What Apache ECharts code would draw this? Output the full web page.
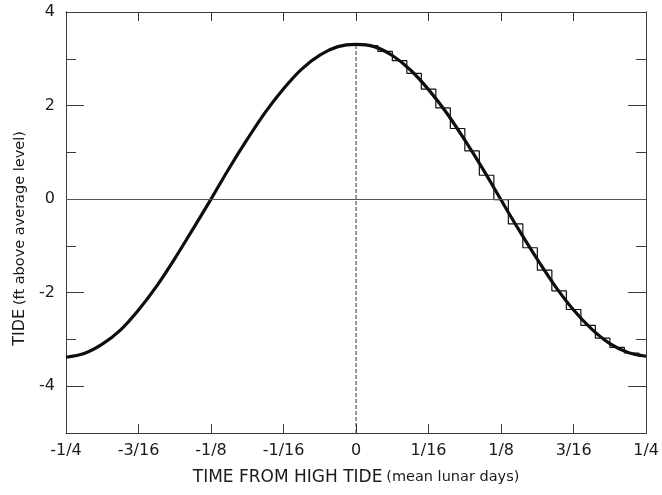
<!DOCTYPE html>
<html>
<head>
<meta charset="utf-8">
<script src="https://cdn.jsdelivr.net/npm/echarts@6/dist/echarts.min.js"></script>
<style>
html,body{margin:0;padding:0;background:#fff;}
#chart{width:662px;height:495px;}
</style>
</head>
<body>
<div id="chart"></div>
<script>
// x tick labels (mean lunar days)
var tickLabels = ["-1/4","-3/16","-1/8","-1/16","0","1/16","1/8","3/16","1/4"];
var yLabelValues = [-4,-2,0,2,4];
var yMinorValues = [-3,-1,1,3];

// smooth tide curve, sampled every 1/64 lunar day
var curveTimes = [-0.25,-0.234375,-0.21875,-0.203125,-0.1875,-0.171875,-0.15625,-0.140625,-0.125,
  -0.109375,-0.09375,-0.078125,-0.0625,-0.046875,-0.03125,-0.015625,0,
  0.015625,0.03125,0.046875,0.0625,0.078125,0.09375,0.109375,0.125,
  0.140625,0.15625,0.171875,0.1875,0.203125,0.21875,0.234375,0.25];
var curveValues = [-3.38,-3.30,-3.10,-2.80,-2.37,-1.86,-1.27,-0.64,0.00,
  0.66,1.28,1.86,2.36,2.78,3.08,3.26,3.31,
  3.26,3.07,2.76,2.34,1.84,1.26,0.64,-0.02,
  -0.67,-1.29,-1.87,-2.37,-2.78,-3.09,-3.28,-3.36];

// staircase approximation (right half)
var stepTimes = [0,0.0125,0.025,0.0375,0.05,0.0625,0.075,0.0875,0.1,0.1125,0.125,
  0.1375,0.15,0.1625,0.175,0.1875,0.2,0.2125,0.225,0.2375,0.25];
var stepValues = [3.31,3.28,3.16,2.96,2.69,2.35,1.95,1.51,1.03,0.51,-0.01,
  -0.53,-1.04,-1.52,-1.96,-2.36,-2.70,-2.97,-3.17,-3.29,-3.36];

var X_MIN = -0.25, X_MAX = 0.25, X_STEP = 0.0625;
var Y_MIN = -5, Y_MAX = 4;

var curveData = curveTimes.map(function(t,i){return [t, curveValues[i]];});
var stepData = stepTimes.map(function(t,i){return [t, stepValues[i]];});
var peakIdx = curveTimes.indexOf(0);
var dashData = [[curveTimes[peakIdx], Y_MIN],[curveTimes[peakIdx], curveValues[peakIdx]]];

var FONT = "DejaVu Sans";
var TXT = "#1a1a1a";
var AXC = "#3a3a3a";

function yAx(pos, vals, len, labels){
  return {
    type:'value', position:pos, min:Y_MIN, max:Y_MAX, interval:1,
    axisLine:{show:true, onZero:false, lineStyle:{color:AXC, width:1}},
    axisTick:{show:true, inside:true, length:len, customValues:vals, lineStyle:{color:AXC, width:1}},
    axisLabel: labels ? {show:true, customValues:yLabelValues, margin:11, color:TXT, fontFamily:FONT, fontSize:16} : {show:false},
    splitLine:{show:false}
  };
}

var yAxes = [yAx('left', yLabelValues, 18, true), yAx('left', yMinorValues, 10, false),
             yAx('right', yLabelValues, 18, false), yAx('right', yMinorValues, 10, false)];
yAxes[0].name = '{a|TIDE} {b|(ft above average level)}';
yAxes[0].nameLocation = 'middle';
yAxes[0].nameGap = 37;
yAxes[0].nameTextStyle = {
  color:TXT, fontFamily:FONT, padding:[0,32,0,0],
  rich:{a:{fontSize:16, fontFamily:FONT, color:TXT}, b:{fontSize:14.5, fontFamily:FONT, color:TXT}}
};

var chart = echarts.init(document.getElementById('chart'), null, {renderer:'canvas'});
chart.setOption({
  animation:false,
  backgroundColor:'#fff',
  grid:{left:66, right:15, top:12, bottom:62, containLabel:false},
  xAxis:[{
    type:'value', position:'bottom', min:X_MIN, max:X_MAX, interval:X_STEP,
    axisLine:{show:true, onZero:false, lineStyle:{color:AXC, width:1}},
    axisTick:{show:true, inside:true, length:9, lineStyle:{color:AXC, width:1}},
    axisLabel:{show:true, margin:10, color:TXT, fontFamily:FONT, fontSize:16,
      formatter:function(v){ return tickLabels[Math.round((v - X_MIN)/X_STEP)] || ''; }},
    splitLine:{show:false},
    name:'{a|TIME FROM HIGH TIDE} {b|(mean lunar days)}',
    nameLocation:'middle', nameGap:36,
    nameTextStyle:{color:TXT, fontFamily:FONT,
      rich:{a:{fontSize:17, fontFamily:FONT, color:TXT}, b:{fontSize:14.5, fontFamily:FONT, color:TXT}}}
  },{
    type:'value', position:'top', min:X_MIN, max:X_MAX, interval:X_STEP,
    axisLine:{show:true, onZero:false, lineStyle:{color:AXC, width:1}},
    axisTick:{show:true, inside:true, length:9, lineStyle:{color:AXC, width:1}},
    axisLabel:{show:false}, splitLine:{show:false}
  }],
  yAxis:yAxes,
  series:[{
    type:'line', data:dashData, symbol:'none', silent:true,
    lineStyle:{color:'#333', width:1, type:[4,2]}
  },{
    type:'line', data:curveData, smooth:0.35, symbol:'none',
    lineStyle:{color:'#0d0d0d', width:3.2},
    markLine:{silent:true, symbol:'none', label:{show:false},
      lineStyle:{color:'#555', width:1, type:'solid'},
      data:[{yAxis:0}]}
  },{
    type:'line', data:stepData, step:'middle', symbol:'none',
    lineStyle:{color:'#111', width:1.2}
  }]
});
</script>
</body>
</html>
